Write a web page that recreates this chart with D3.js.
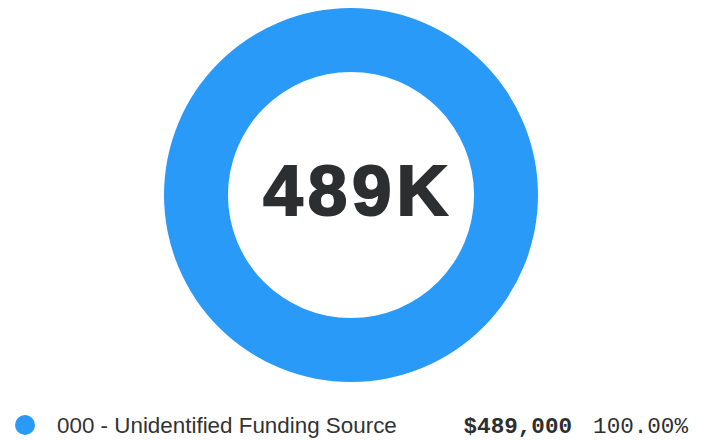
<!DOCTYPE html>
<html>
<head>
<meta charset="utf-8">
<script src="https://cdn.jsdelivr.net/npm/d3@7"></script>
<style>
  body { margin: 0; background: #fff; }
</style>
</head>
<body>
<div id="wrapper"></div>
<script>
const categories = ["000 - Unidentified Funding Source"]
const values = [489000]
const colors = ["#2a9af9"]

const total = d3.sum(values)

let dms = {
  width: 707,
  height: 440,
  cx: 351,
  cy: 195,
  outer: 187,
  inner: 123,
}

const svg = d3.select("#wrapper")
  .append("svg")
  .attr("width", dms.width)
  .attr("height", dms.height)

const pie = d3.pie().sort(null)
const arc = d3.arc().innerRadius(dms.inner).outerRadius(dms.outer)

const donut = svg.append("g")
  .attr("transform", `translate(${dms.cx},${dms.cy})`)

donut.selectAll("path")
  .data(pie(values))
  .join("path")
  .attr("d", arc)
  .attr("fill", (d, i) => colors[i])

// big total in the middle
donut.append("text")
  .attr("text-anchor", "middle")
  .attr("x", 7)
  .attr("y", 20)
  .attr("font-family", "Liberation Sans, Arial, sans-serif")
  .attr("font-weight", "bold")
  .attr("font-size", 71)
  .attr("letter-spacing", 5)
  .attr("stroke", "#2d2e30")
  .attr("stroke-width", 2)
  .attr("fill", "#2d2e30")
  .text(d3.format(".3~s")(total).replace("k", "K"))

// legend
const legend = svg.append("g")
  .selectAll("g")
  .data(categories)
  .join("g")
  .attr("transform", (d, i) => `translate(0,${425 + i * 30})`)

legend.append("circle")
  .attr("cx", 25)
  .attr("cy", 0)
  .attr("r", 10)
  .attr("fill", (d, i) => colors[i])

legend.append("text")
  .attr("x", 57)
  .attr("y", 8)
  .attr("font-family", "Liberation Sans, Arial, sans-serif")
  .attr("font-size", 22.4)
  .attr("fill", "#333")
  .text(d => d)

legend.append("text")
  .attr("x", 572)
  .attr("y", 8)
  .attr("text-anchor", "end")
  .attr("font-family", "Liberation Mono, monospace")
  .attr("font-weight", "bold")
  .attr("font-size", 22.6)
  .attr("fill", "#2d2e30")
  .text((d, i) => "$" + d3.format(",")(values[i]))

legend.append("text")
  .attr("x", 688)
  .attr("y", 8)
  .attr("text-anchor", "end")
  .attr("font-family", "Liberation Mono, monospace")
  .attr("font-size", 22.6)
  .attr("fill", "#2d2e30")
  .text((d, i) => d3.format(".2%")(values[i] / total))
</script>
</body>
</html>
